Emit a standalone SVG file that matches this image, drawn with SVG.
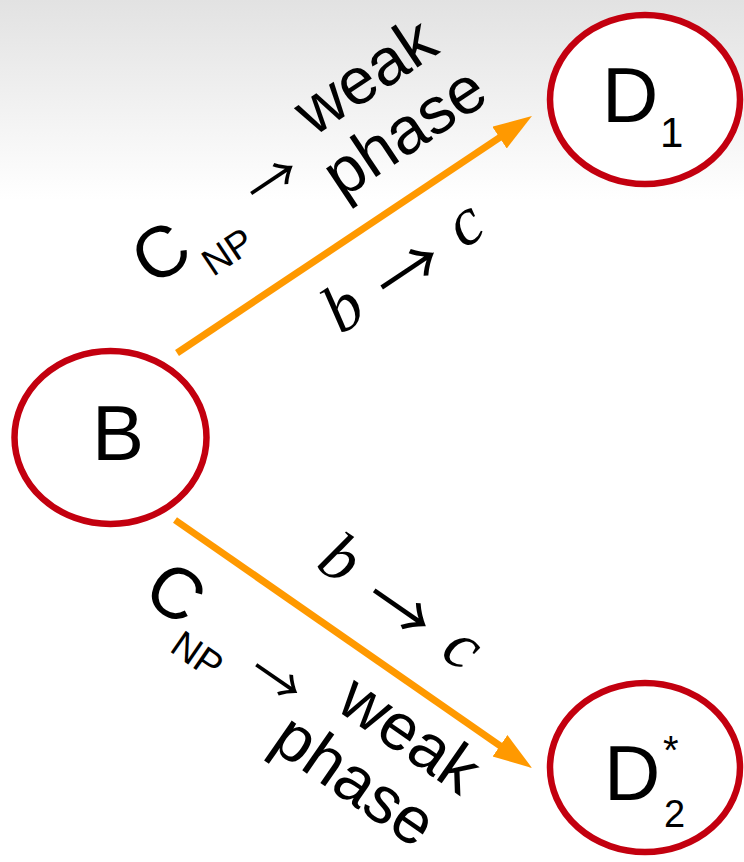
<svg xmlns="http://www.w3.org/2000/svg" width="744" height="862" viewBox="0 0 744 862">
  <defs>
    <linearGradient id="bg" gradientUnits="userSpaceOnUse" x1="0" y1="0" x2="0" y2="200">
      <stop offset="0" stop-color="#e2e2e2"/>
      <stop offset="1" stop-color="#ffffff"/>
    </linearGradient>
    <marker id="ah" markerUnits="userSpaceOnUse" markerWidth="40" markerHeight="28" refX="9" refY="13" orient="auto">
      <path d="M0,0 L39,13 L0,26 z" fill="#ff9900"/>
    </marker>
    <style>
      .node { fill: #ffffff; stroke: #c3000f; stroke-width: 6.5; }
      .edge { stroke: #ff9900; stroke-width: 7; fill: none; }
      .sans { font-family: "Liberation Sans", Arial, sans-serif; fill: #000; }
      .math { font-family: "Liberation Serif", "DejaVu Serif", serif; font-style: italic; fill: #000; }
      .arr { font-family: "Noto Sans CJK JP", "DejaVu Sans", sans-serif; fill: #000; }
    </style>
  </defs>
  <rect x="0" y="0" width="744" height="862" fill="#ffffff"/>
  <rect x="0" y="0" width="744" height="200" fill="url(#bg)"/>

  <g id="connectors">
    <line class="edge" x1="177" y1="353" x2="507" y2="132.6" marker-end="url(#ah)"/>
    <line class="edge" x1="175" y1="520" x2="507.4" y2="750.9" marker-end="url(#ah)"/>
  </g>

  <g id="label-upper" transform="translate(177,353) rotate(-33.7)">
    <text class="sans" x="16" y="-68" font-size="72">C</text>
    <text class="sans" x="72" y="-43" font-size="38">NP</text>
    <text class="arr" x="175" y="-71" font-size="54" text-anchor="middle">→</text>
    <text class="sans" x="233" y="-104" font-size="66">weak</text>
    <text class="sans" x="222" y="-36" font-size="66">phase</text>
    <text class="math" x="146" y="76" font-size="68">b</text>
    <text class="arr" x="238" y="85" font-size="68" text-anchor="middle">→</text>
    <text class="math" x="296" y="73" font-size="68">c</text>
  </g>

  <g id="label-lower" transform="translate(175,520) rotate(34.8)">
    <text class="sans" x="16" y="84" font-size="72">C</text>
    <text class="sans" x="69" y="111" font-size="38">NP</text>
    <text class="arr" x="174" y="93" font-size="54" text-anchor="middle">→</text>
    <text class="sans" x="238" y="64" font-size="66">weak</text>
    <text class="sans" x="206" y="133" font-size="66">phase</text>
    <text class="math" x="141" y="-41" font-size="68">b</text>
    <text class="arr" x="235" y="-30" font-size="68" text-anchor="middle">→</text>
    <text class="math" x="294" y="-39" font-size="68">c</text>
  </g>

  <g id="node-B">
    <ellipse class="node" cx="110.5" cy="437.5" rx="96" ry="86.5"/>
    <text class="sans" x="118" y="460" font-size="78" text-anchor="middle">B</text>
  </g>

  <g id="node-D1">
    <ellipse class="node" cx="645" cy="99.5" rx="95" ry="84.5"/>
    <text class="sans" x="602" y="122" font-size="78">D</text>
    <text class="sans" x="660" y="147" font-size="42">1</text>
  </g>

  <g id="node-D2">
    <ellipse class="node" cx="645" cy="767.5" rx="95" ry="84.5"/>
    <text class="sans" x="604" y="800" font-size="78">D</text>
    <text class="sans" x="664" y="827" font-size="38">2</text>
    <text class="sans" x="663" y="764" font-size="40">*</text>
  </g>
</svg>
